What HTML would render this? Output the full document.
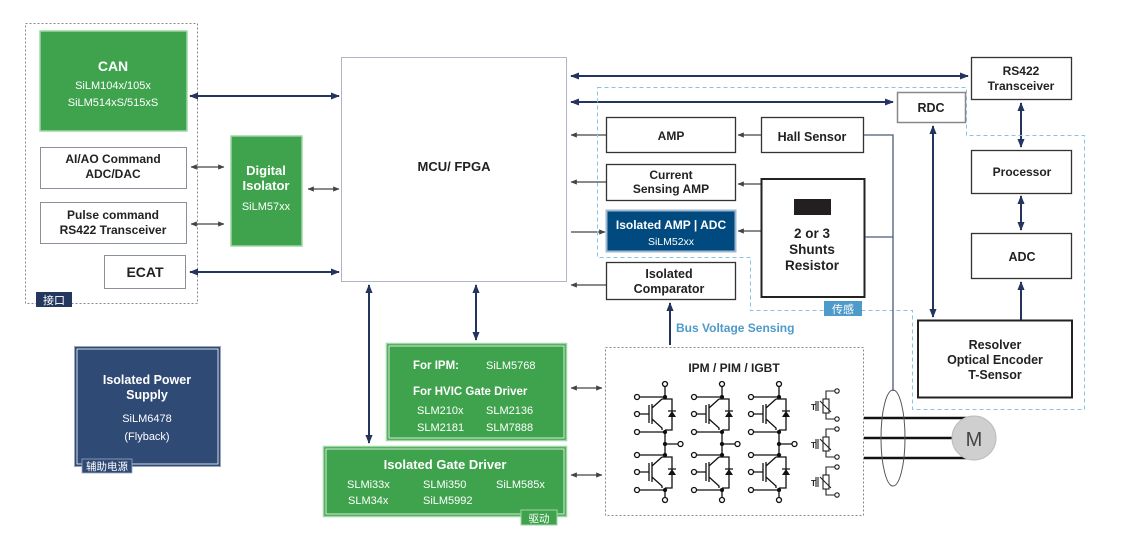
<!DOCTYPE html>
<html><head><meta charset="utf-8"><style>
html,body{margin:0;padding:0;background:#fff;}
svg{display:block;font-family:"Liberation Sans","Noto Sans CJK SC",sans-serif;}
.b{font-weight:bold;}
</style></head><body>
<svg width="1121" height="544" viewBox="0 0 1121 544" xmlns="http://www.w3.org/2000/svg">
<defs>
<marker id="an" viewBox="0 0 10 10" refX="9" refY="5" markerWidth="4.5" markerHeight="4.5" orient="auto-start-reverse"><path d="M0,1 L10,5 L0,9 z" fill="#23355f"/></marker>
<marker id="ag" viewBox="0 0 10 10" refX="9" refY="5" markerWidth="5" markerHeight="5" orient="auto-start-reverse"><path d="M0,1 L10,5 L0,9 z" fill="#444"/></marker>
<g id="leg" stroke="#111" stroke-width="1.3" fill="none">
<circle cx="0" cy="0" r="2.5" fill="#fff"/>
<path d="M0,2.5 V15 M-3,15 H7 V46 H0 M0,46 V73 M-3,73 H7 V104 H0 M0,104 V113.5"/>
<circle cx="0" cy="116" r="2.5" fill="#fff"/>
<path d="M-25.5,13 H0 M-25.5,48 H0 M-25.5,71 H0 M-25.5,106 H0 M-25.5,30 H-16 M-25.5,88 H-16 M0,60 H13"/>
<circle cx="-28" cy="13" r="2.5" fill="#fff"/><circle cx="-28" cy="48" r="2.5" fill="#fff"/>
<circle cx="-28" cy="71" r="2.5" fill="#fff"/><circle cx="-28" cy="106" r="2.5" fill="#fff"/>
<circle cx="-28" cy="30" r="2.5" fill="#fff"/><circle cx="-28" cy="88" r="2.5" fill="#fff"/>
<circle cx="15.5" cy="60" r="2.5" fill="#fff"/>
<path d="M-16,21 V39 M-13,20 V40 M-13,24 L-3,15 M-13,35 L-3,44 V46 M-16,79 V97 M-13,78 V98 M-13,82 L-3,73 M-13,93 L-3,102 V104"/>
<path d="M3,27 H11 M3,85 H11"/>
<polygon points="3,33 11,33 7,27" fill="#111" stroke="none"/>
<polygon points="3,91 11,91 7,85" fill="#111" stroke="none"/>
<circle cx="0" cy="13" r="1.5" fill="#111"/><circle cx="0" cy="48" r="1.5" fill="#111"/><circle cx="0" cy="60" r="1.5" fill="#111"/><circle cx="0" cy="71" r="1.5" fill="#111"/><circle cx="0" cy="106" r="1.5" fill="#111"/>
</g>
<g id="th" fill="none" stroke="#222" stroke-width="1.1">
<circle cx="0" cy="0" r="2.2" fill="#fff"/><circle cx="0" cy="28" r="2.2" fill="#fff"/>
<path d="M-2.2,0 H-11 V8 M-2.2,28 H-11 V22"/>
<rect x="-14" y="8" width="6" height="14"/>
<path d="M-17,10 L-6,21 M-19,10 V20 M-21,10 V20"/>
<text x="-26" y="19" font-size="8" font-weight="bold" fill="#222" stroke="none">T</text>
</g>
</defs>

<!-- interface -->
<rect x="25.5" y="23.5" width="172" height="280" fill="none" stroke="#888" stroke-dasharray="2,2"/>
<rect x="36" y="292" width="36" height="15" fill="#24385f"/>
<text x="54" y="304" font-size="11" fill="#fff" text-anchor="middle">接口</text>
<rect x="40" y="31" width="147" height="100" fill="#3fa34d" stroke="#9fd7a5" stroke-width="1.5"/>
<text x="113" y="71" font-size="14" class="b" fill="#fff" text-anchor="middle">CAN</text>
<text x="113" y="89" font-size="11" fill="#fff" text-anchor="middle">SiLM104x/105x</text>
<text x="113" y="106" font-size="11" fill="#fff" text-anchor="middle">SiLM514xS/515xS</text>
<rect x="40.5" y="147.5" width="146" height="41" fill="#fff" stroke="#8a8f9c"/>
<text x="113" y="163" font-size="12" class="b" fill="#222" text-anchor="middle">AI/AO Command</text>
<text x="113" y="178" font-size="12" class="b" fill="#222" text-anchor="middle">ADC/DAC</text>
<rect x="40.5" y="202.5" width="146" height="41" fill="#fff" stroke="#8a8f9c"/>
<text x="113" y="219" font-size="12" class="b" fill="#222" text-anchor="middle">Pulse command</text>
<text x="113" y="234" font-size="12" class="b" fill="#222" text-anchor="middle">RS422 Transceiver</text>
<rect x="104.5" y="255.5" width="81" height="33" fill="#fff" stroke="#8a8f9c"/>
<text x="145" y="277" font-size="14" class="b" fill="#222" text-anchor="middle">ECAT</text>
<rect x="231" y="136" width="71" height="110" fill="#3fa34d" stroke="#9fd7a5" stroke-width="1.5"/>
<text x="266" y="175" font-size="13" class="b" fill="#fff" text-anchor="middle">Digital</text>
<text x="266" y="190" font-size="13" class="b" fill="#fff" text-anchor="middle">Isolator</text>
<text x="266" y="210" font-size="11" fill="#fff" text-anchor="middle">SiLM57xx</text>

<!-- MCU -->
<rect x="341.5" y="57.5" width="225" height="224" fill="#fff" stroke="#b0b4c4"/>
<text x="454" y="171" font-size="13" class="b" fill="#222" text-anchor="middle">MCU/ FPGA</text>

<g stroke="#23355f" stroke-width="2" fill="none">
<line x1="190" y1="96" x2="339" y2="96" marker-start="url(#an)" marker-end="url(#an)"/>
<line x1="190" y1="272" x2="339" y2="272" marker-start="url(#an)" marker-end="url(#an)"/>
<line x1="571" y1="76" x2="968" y2="76" marker-start="url(#an)" marker-end="url(#an)"/>
<line x1="571" y1="102" x2="893" y2="102" marker-start="url(#an)" marker-end="url(#an)"/>
<line x1="476" y1="285" x2="476" y2="340" marker-start="url(#an)" marker-end="url(#an)"/>
<line x1="369" y1="285" x2="369" y2="443" marker-start="url(#an)" marker-end="url(#an)"/>
<line x1="1021" y1="103" x2="1021" y2="147" marker-start="url(#an)" marker-end="url(#an)"/>
<line x1="1021" y1="196" x2="1021" y2="230" marker-start="url(#an)" marker-end="url(#an)"/>
<line x1="1021" y1="320" x2="1021" y2="282" marker-end="url(#an)"/>
<line x1="933" y1="126" x2="933" y2="317" marker-start="url(#an)" marker-end="url(#an)"/>
<line x1="670" y1="345" x2="670" y2="303" marker-end="url(#an)"/>
</g>
<g stroke="#444" stroke-width="1.3" fill="none">
<line x1="191" y1="167" x2="224" y2="167" marker-start="url(#ag)" marker-end="url(#ag)"/>
<line x1="191" y1="224" x2="224" y2="224" marker-start="url(#ag)" marker-end="url(#ag)"/>
<line x1="308" y1="189" x2="339" y2="189" marker-start="url(#ag)" marker-end="url(#ag)"/>
<line x1="571" y1="388" x2="602" y2="388" marker-start="url(#ag)" marker-end="url(#ag)"/>
<line x1="571" y1="475" x2="602" y2="475" marker-start="url(#ag)" marker-end="url(#ag)"/>
<line x1="606" y1="135" x2="571" y2="135" marker-end="url(#ag)"/>
<line x1="606" y1="182" x2="571" y2="182" marker-end="url(#ag)"/>
<line x1="571" y1="232" x2="605" y2="232" marker-end="url(#ag)"/>
<line x1="606" y1="285" x2="571" y2="285" marker-end="url(#ag)"/>
<line x1="761" y1="135" x2="738" y2="135" marker-end="url(#ag)"/>
<line x1="761" y1="184" x2="738" y2="184" marker-end="url(#ag)"/>
<line x1="761" y1="231" x2="738" y2="231" marker-end="url(#ag)"/>
</g>

<!-- sensing region -->
<path d="M597.5,87.5 H966.5 V135.5 H1084.5 V409.5 H912.5 V310.5 H750.5 V257.5 H597.5 Z" fill="none" stroke="#8cc2e0" stroke-dasharray="4,3"/>
<rect x="824" y="301" width="38" height="15" fill="#4e9ac9"/>
<text x="843" y="313" font-size="11" fill="#fff" text-anchor="middle">传感</text>

<rect x="606.5" y="117.5" width="129" height="35" fill="#fff" stroke="#333" stroke-width="1.3"/>
<text x="671" y="140" font-size="12" class="b" fill="#222" text-anchor="middle">AMP</text>
<rect x="761.5" y="117.5" width="102" height="35" fill="#fff" stroke="#333" stroke-width="1.3"/>
<text x="812" y="141" font-size="12.5" class="b" fill="#222" text-anchor="middle">Hall Sensor</text>
<rect x="606.5" y="164.5" width="129" height="36" fill="#fff" stroke="#333" stroke-width="1.3"/>
<text x="671" y="179" font-size="12" class="b" fill="#222" text-anchor="middle">Current</text>
<text x="671" y="193" font-size="12" class="b" fill="#222" text-anchor="middle">Sensing AMP</text>
<rect x="606.5" y="210.5" width="129" height="41" fill="#004a80" stroke="#9fb8d0" stroke-width="2"/>
<text x="671" y="229" font-size="12" class="b" fill="#fff" text-anchor="middle">Isolated AMP | ADC</text>
<text x="671" y="245" font-size="10.5" fill="#fff" text-anchor="middle">SiLM52xx</text>
<rect x="606.5" y="262.5" width="129" height="37" fill="#fff" stroke="#333" stroke-width="1.3"/>
<text x="669" y="278" font-size="12.5" class="b" fill="#222" text-anchor="middle">Isolated</text>
<text x="669" y="293" font-size="12.5" class="b" fill="#222" text-anchor="middle">Comparator</text>
<rect x="761.5" y="179" width="103" height="118" fill="#fff" stroke="#222" stroke-width="2"/>
<rect x="794" y="199" width="37" height="16" fill="#231f20"/>
<text x="812" y="238" font-size="13.5" class="b" fill="#222" text-anchor="middle">2 or 3</text>
<text x="812" y="254" font-size="13.5" class="b" fill="#222" text-anchor="middle">Shunts</text>
<text x="812" y="270" font-size="13.5" class="b" fill="#222" text-anchor="middle">Resistor</text>
<text x="676" y="332" font-size="12" class="b" fill="#4e9ac9">Bus Voltage Sensing</text>

<path d="M864,135 H893 V391 M865,237 H893" fill="none" stroke="#4a5a7c" stroke-width="1.3"/>

<!-- right -->
<rect x="971.5" y="57.5" width="100" height="42" fill="#fff" stroke="#333" stroke-width="1.3"/>
<text x="1021" y="75" font-size="12" class="b" fill="#222" text-anchor="middle">RS422</text>
<text x="1021" y="90" font-size="12" class="b" fill="#222" text-anchor="middle">Transceiver</text>
<rect x="897.5" y="92.5" width="68" height="30" fill="#fff" stroke="#888" stroke-width="1.5"/>
<text x="931" y="112" font-size="12.5" class="b" fill="#222" text-anchor="middle">RDC</text>
<rect x="971.5" y="150.5" width="100" height="43" fill="#fff" stroke="#333" stroke-width="1.3"/>
<text x="1022" y="176" font-size="12" class="b" fill="#222" text-anchor="middle">Processor</text>
<rect x="971.5" y="233.5" width="100" height="45" fill="#fff" stroke="#333" stroke-width="1.3"/>
<text x="1022" y="261" font-size="12.5" class="b" fill="#222" text-anchor="middle">ADC</text>
<rect x="918" y="320.5" width="154" height="77" fill="#fff" stroke="#222" stroke-width="2"/>
<text x="995" y="349" font-size="12.5" class="b" fill="#222" text-anchor="middle">Resolver</text>
<text x="995" y="364" font-size="12.5" class="b" fill="#222" text-anchor="middle">Optical Encoder</text>
<text x="995" y="379" font-size="12.5" class="b" fill="#222" text-anchor="middle">T-Sensor</text>

<!-- power supply -->
<rect x="74.5" y="346.5" width="146" height="120" fill="#2f4a75" stroke="#9aa8bf" stroke-width="1"/>
<rect x="77" y="349" width="141" height="115" fill="none" stroke="#fff" stroke-width="0.8"/>
<text x="147" y="384" font-size="12.5" class="b" fill="#fff" text-anchor="middle">Isolated Power</text>
<text x="147" y="399" font-size="12.5" class="b" fill="#fff" text-anchor="middle">Supply</text>
<text x="147" y="422" font-size="11" fill="#fff" text-anchor="middle">SiLM6478</text>
<text x="147" y="440" font-size="11" fill="#fff" text-anchor="middle">(Flyback)</text>
<rect x="82" y="459" width="50" height="14" fill="#2f4a75" stroke="#9aa8bf" stroke-width="0.8"/>
<text x="107" y="470" font-size="10.5" fill="#fff" text-anchor="middle">辅助电源</text>

<!-- gate drivers -->
<rect x="386.5" y="343.5" width="180" height="97" fill="#3fa34d" stroke="#9fd7a5" stroke-width="1.5"/>
<rect x="389" y="346" width="175" height="92" fill="none" stroke="#fff" stroke-width="0.8"/>
<text x="413" y="369" font-size="11.5" class="b" fill="#fff">For IPM:</text>
<text x="486" y="369" font-size="11" fill="#fff">SiLM5768</text>
<text x="413" y="395" font-size="11.5" class="b" fill="#fff">For HVIC Gate Driver</text>
<text x="417" y="414" font-size="11" fill="#fff">SLM210x</text>
<text x="486" y="414" font-size="11" fill="#fff">SLM2136</text>
<text x="417" y="431" font-size="11" fill="#fff">SLM2181</text>
<text x="486" y="431" font-size="11" fill="#fff">SLM7888</text>
<rect x="323.5" y="446.5" width="243" height="70" fill="#3fa34d" stroke="#9fd7a5" stroke-width="1.5"/>
<rect x="326" y="449" width="238" height="65" fill="none" stroke="#fff" stroke-width="0.8"/>
<text x="445" y="469" font-size="13" class="b" fill="#fff" text-anchor="middle">Isolated Gate Driver</text>
<text x="347" y="488" font-size="11" fill="#fff">SLMi33x</text>
<text x="423" y="488" font-size="11" fill="#fff">SLMi350</text>
<text x="496" y="488" font-size="11" fill="#fff">SiLM585x</text>
<text x="348" y="504" font-size="11" fill="#fff">SLM34x</text>
<text x="423" y="504" font-size="11" fill="#fff">SiLM5992</text>
<rect x="521" y="510" width="36" height="15" fill="#3fa34d" stroke="#9fd7a5" stroke-width="1"/>
<text x="539" y="522" font-size="10.5" fill="#fff" text-anchor="middle">驱动</text>

<!-- IPM -->
<rect x="605.5" y="347.5" width="258" height="168" fill="#fff" stroke="#888" stroke-dasharray="2,2"/>
<text x="734" y="372" font-size="12" class="b" fill="#222" text-anchor="middle">IPM / PIM / IGBT</text>
<use href="#leg" x="665" y="384"/>
<use href="#leg" x="722" y="384"/>
<use href="#leg" x="779" y="384"/>
<use href="#th" x="837" y="391"/>
<use href="#th" x="837" y="429"/>
<use href="#th" x="837" y="467"/>

<g stroke="#111" stroke-width="2.5">
<line x1="864" y1="418" x2="970" y2="418"/>
<line x1="864" y1="438" x2="960" y2="438"/>
<line x1="864" y1="458" x2="970" y2="458"/>
</g>
<ellipse cx="893" cy="438" rx="12" ry="48" fill="none" stroke="#555" stroke-width="1"/>
<circle cx="974" cy="438" r="22" fill="#cfcfcf" stroke="#bbb"/>
<text x="974" y="446" font-size="20" fill="#444" text-anchor="middle">M</text>
</svg>
</body></html>
